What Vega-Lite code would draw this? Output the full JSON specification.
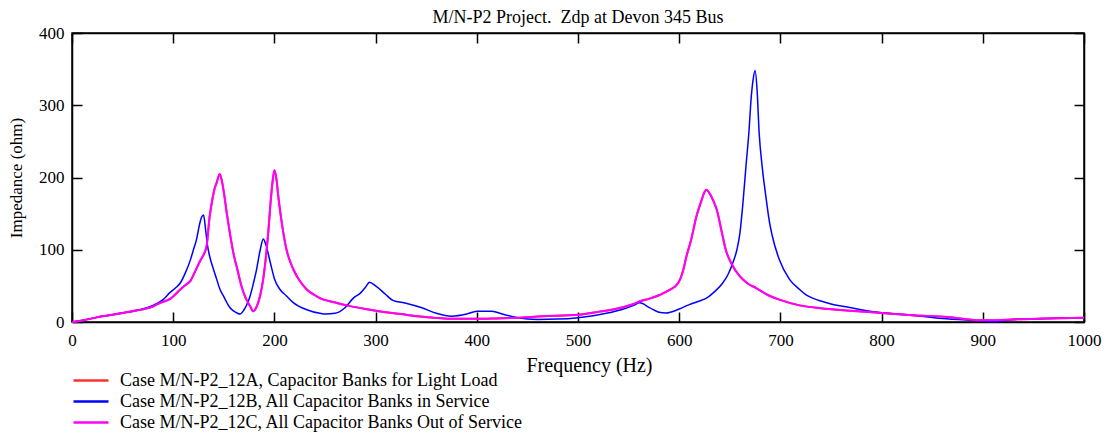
{
  "$schema": "https://vega.github.io/schema/vega-lite/v6.json",
  "autosize": "none",
  "width": 1012,
  "height": 289,
  "padding": {"left": 72, "top": 33, "right": 25, "bottom": 113},
  "background": "white",
  "config": {
    "font": "Liberation Serif",
    "view": {"stroke": "black", "strokeWidth": 1.5},
    "axis": {
      "labelFont": "Liberation Serif", "labelFontSize": 17, "labelColor": "black",
      "titleFont": "Liberation Serif", "titleFontSize": 18, "titleFontWeight": "normal", "titleColor": "black",
      "domainColor": "black", "domainWidth": 1.5, "tickColor": "black", "tickWidth": 1.5,
      "tickSize": -10, "grid": false, "labelFlush": false, "labelOverlap": false, "labelBound": false
    },
    "legend": {
      "labelFont": "Liberation Serif", "labelFontSize": 18, "labelColor": "black", "labelLimit": 0
    }
  },
  "title": {
    "text": "M/N-P2 Project.\u00a0 Zdp at Devon 345 Bus",
    "font": "Liberation Serif", "fontSize": 18, "fontWeight": "normal", "color": "black",
    "anchor": "middle", "offset": -3
  },
  "datasets": {
    "blue": [
      {"f": 0, "z": 0}, {"f": 10, "z": 2}, {"f": 20, "z": 5}, {"f": 30, "z": 8}, {"f": 40, "z": 10},
      {"f": 50, "z": 12.5}, {"f": 60, "z": 15}, {"f": 70, "z": 18}, {"f": 80, "z": 23}, {"f": 90, "z": 31},
      {"f": 97, "z": 41}, {"f": 103, "z": 48}, {"f": 107, "z": 54}, {"f": 112, "z": 68}, {"f": 117, "z": 86},
      {"f": 120, "z": 100}, {"f": 123, "z": 114}, {"f": 126, "z": 135}, {"f": 128, "z": 145}, {"f": 130, "z": 148},
      {"f": 132, "z": 128}, {"f": 134, "z": 105}, {"f": 136, "z": 91}, {"f": 140, "z": 72}, {"f": 143, "z": 59},
      {"f": 146, "z": 46}, {"f": 150, "z": 35}, {"f": 153, "z": 27}, {"f": 156, "z": 20}, {"f": 160, "z": 15},
      {"f": 163, "z": 12.5}, {"f": 166, "z": 11}, {"f": 170, "z": 17}, {"f": 174, "z": 28}, {"f": 176, "z": 36},
      {"f": 179, "z": 52}, {"f": 182, "z": 70}, {"f": 186, "z": 100}, {"f": 189, "z": 115}, {"f": 192, "z": 105},
      {"f": 196, "z": 82}, {"f": 200, "z": 60}, {"f": 205, "z": 46}, {"f": 212, "z": 36}, {"f": 219, "z": 26.5},
      {"f": 232, "z": 17}, {"f": 245, "z": 12}, {"f": 250, "z": 11}, {"f": 260, "z": 12}, {"f": 270, "z": 20},
      {"f": 278, "z": 33}, {"f": 285, "z": 40}, {"f": 290, "z": 48}, {"f": 294, "z": 55}, {"f": 300, "z": 50},
      {"f": 310, "z": 38}, {"f": 317, "z": 30}, {"f": 330, "z": 26}, {"f": 345, "z": 20}, {"f": 360, "z": 12},
      {"f": 375, "z": 8}, {"f": 390, "z": 11}, {"f": 400, "z": 15}, {"f": 415, "z": 15}, {"f": 425, "z": 11},
      {"f": 440, "z": 6}, {"f": 460, "z": 3.5}, {"f": 480, "z": 4}, {"f": 500, "z": 6}, {"f": 528, "z": 12},
      {"f": 545, "z": 18}, {"f": 555, "z": 23}, {"f": 561, "z": 26.5}, {"f": 571, "z": 19.6}, {"f": 580, "z": 13.6},
      {"f": 587, "z": 12.5}, {"f": 600, "z": 18}, {"f": 610, "z": 24}, {"f": 620, "z": 29}, {"f": 627, "z": 33},
      {"f": 635, "z": 42}, {"f": 643, "z": 54}, {"f": 648, "z": 65}, {"f": 653, "z": 82}, {"f": 657, "z": 100},
      {"f": 660, "z": 123}, {"f": 663, "z": 165}, {"f": 666, "z": 216}, {"f": 669, "z": 265}, {"f": 671, "z": 308},
      {"f": 673, "z": 335}, {"f": 675, "z": 348}, {"f": 677, "z": 320}, {"f": 679, "z": 262}, {"f": 682, "z": 215},
      {"f": 686, "z": 170}, {"f": 689, "z": 140}, {"f": 692, "z": 119}, {"f": 699, "z": 86}, {"f": 709, "z": 59},
      {"f": 719, "z": 45}, {"f": 725, "z": 38}, {"f": 732, "z": 33}, {"f": 740, "z": 29}, {"f": 750, "z": 25},
      {"f": 765, "z": 21}, {"f": 780, "z": 17}, {"f": 798, "z": 13},
      {"f": 831, "z": 9.4}, {"f": 864, "z": 4.4}, {"f": 897, "z": 1.6}, {"f": 914, "z": 0.5}, {"f": 930, "z": 3.5},
      {"f": 963, "z": 4.8}, {"f": 1000, "z": 6}
    ],
    "magenta": [
      {"f": 0, "z": 0}, {"f": 10, "z": 2}, {"f": 20, "z": 5}, {"f": 30, "z": 8}, {"f": 40, "z": 10},
      {"f": 50, "z": 12.5}, {"f": 60, "z": 15}, {"f": 70, "z": 17.5}, {"f": 80, "z": 21.5}, {"f": 87, "z": 26.5},
      {"f": 97, "z": 32}, {"f": 107, "z": 45}, {"f": 112, "z": 51}, {"f": 117, "z": 57}, {"f": 121, "z": 68},
      {"f": 125, "z": 80}, {"f": 128, "z": 88}, {"f": 131, "z": 96}, {"f": 133, "z": 105}, {"f": 136, "z": 146},
      {"f": 139, "z": 172}, {"f": 141, "z": 185}, {"f": 143, "z": 193}, {"f": 146, "z": 205}, {"f": 148, "z": 196},
      {"f": 150, "z": 180}, {"f": 153, "z": 150}, {"f": 156, "z": 123}, {"f": 160, "z": 92}, {"f": 163, "z": 75},
      {"f": 167, "z": 52}, {"f": 171, "z": 35}, {"f": 176, "z": 22}, {"f": 179, "z": 15}, {"f": 183, "z": 23},
      {"f": 186, "z": 37}, {"f": 189, "z": 60}, {"f": 192, "z": 95}, {"f": 194, "z": 125}, {"f": 196, "z": 162},
      {"f": 198, "z": 192}, {"f": 200, "z": 210}, {"f": 202, "z": 198}, {"f": 204, "z": 172}, {"f": 206, "z": 150},
      {"f": 209, "z": 122}, {"f": 212, "z": 100}, {"f": 216, "z": 82}, {"f": 219, "z": 72}, {"f": 225, "z": 57},
      {"f": 232, "z": 45}, {"f": 240, "z": 37}, {"f": 245, "z": 33}, {"f": 260, "z": 27}, {"f": 275, "z": 22},
      {"f": 290, "z": 18}, {"f": 308, "z": 14}, {"f": 325, "z": 11}, {"f": 341, "z": 8}, {"f": 357, "z": 6},
      {"f": 373, "z": 4.4}, {"f": 390, "z": 4.4}, {"f": 406, "z": 4.4}, {"f": 420, "z": 5}, {"f": 440, "z": 6},
      {"f": 465, "z": 8}, {"f": 500, "z": 10}, {"f": 520, "z": 14}, {"f": 540, "z": 19}, {"f": 555, "z": 25},
      {"f": 562, "z": 29}, {"f": 570, "z": 32}, {"f": 580, "z": 37}, {"f": 590, "z": 44}, {"f": 599, "z": 54},
      {"f": 604, "z": 72}, {"f": 607, "z": 90}, {"f": 612, "z": 115}, {"f": 617, "z": 146}, {"f": 622, "z": 168},
      {"f": 625, "z": 180}, {"f": 627, "z": 183}, {"f": 630, "z": 178}, {"f": 634, "z": 167}, {"f": 637, "z": 156},
      {"f": 642, "z": 125}, {"f": 646, "z": 100}, {"f": 652, "z": 80}, {"f": 660, "z": 63}, {"f": 668, "z": 53},
      {"f": 676, "z": 47}, {"f": 688, "z": 37}, {"f": 699, "z": 31}, {"f": 719, "z": 23}, {"f": 740, "z": 19},
      {"f": 765, "z": 16}, {"f": 800, "z": 12.5}, {"f": 830, "z": 9.5}, {"f": 865, "z": 7}, {"f": 897, "z": 2.5},
      {"f": 914, "z": 2.5}, {"f": 930, "z": 3.5}, {"f": 963, "z": 4.8}, {"f": 1000, "z": 6}
    ]
  },
  "layer": [
    {
      "layer": [
        {
          "data": {"name": "magenta"},
          "mark": {"type": "line", "strokeWidth": 2, "interpolate": "monotone"},
          "encoding": {
            "x": {"field": "f", "type": "quantitative"},
            "y": {"field": "z", "type": "quantitative"},
            "color": {"datum": "Case M/N-P2_12A, Capacitor Banks for Light Load"}
          }
        },
        {
          "data": {"name": "blue"},
          "mark": {"type": "line", "strokeWidth": 1.5, "interpolate": "monotone"},
          "encoding": {
            "x": {"field": "f", "type": "quantitative"},
            "y": {"field": "z", "type": "quantitative"},
            "color": {"datum": "Case M/N-P2_12B, All Capacitor Banks in Service"}
          }
        },
        {
          "data": {"name": "magenta"},
          "mark": {"type": "line", "strokeWidth": 2, "interpolate": "monotone"},
          "encoding": {
            "x": {"field": "f", "type": "quantitative",
              "scale": {"domain": [0, 1000], "nice": false},
              "axis": {"orient": "bottom", "title": "Frequency (Hz)", "format": "d", "values": [0,100,200,300,400,500,600,700,800,900,1000], "labelPadding": 20, "titlePadding": 7, "titleFontSize": 20, "titleX": 517, "titleAlign": "center"}},
            "y": {"field": "z", "type": "quantitative",
              "scale": {"domain": [0, 400], "nice": false},
              "axis": {"orient": "left", "title": "Impedance (ohm)", "values": [0,100,200,300,400], "labelPadding": 18, "titlePadding": 13, "titleFontSize": 17}},
            "color": {
              "datum": "Case M/N-P2_12C, All Capacitor Banks Out of Service",
              "scale": {
                "domain": ["Case M/N-P2_12A, Capacitor Banks for Light Load", "Case M/N-P2_12B, All Capacitor Banks in Service", "Case M/N-P2_12C, All Capacitor Banks Out of Service"],
                "range": ["#ff3030", "#0000ff", "#ff00ff"]
              },
              "legend": {
                "title": null, "orient": "none", "legendX": 7.5, "legendY": 336, "padding": 0,
                "symbolType": "M-1.75,0H1.75", "symbolSize": 400, "symbolStrokeWidth": 2.5,
                "labelOffset": 17.5, "rowPadding": -1.5
              }
            }
          }
        }
      ]
    },
    {
      "data": {"name": "magenta"},
      "mark": {"type": "line", "opacity": 0},
      "encoding": {
        "x": {"field": "f", "type": "quantitative",
          "axis": {"orient": "top", "title": null, "labels": false, "values": [0,100,200,300,400,500,600,700,800,900,1000]}},
        "y": {"field": "z", "type": "quantitative",
          "axis": {"orient": "right", "title": null, "labels": false, "values": [0,100,200,300,400]}}
      }
    }
  ],
  "resolve": {"axis": {"x": "independent", "y": "independent"}}
}
